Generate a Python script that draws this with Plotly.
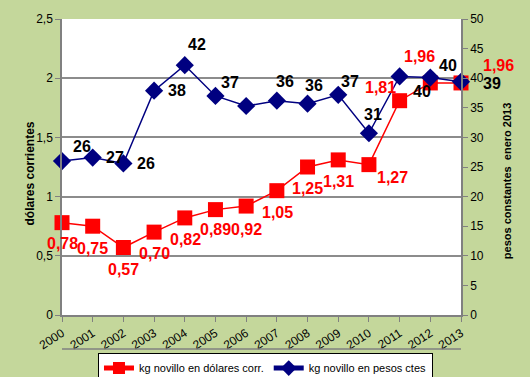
import plotly.graph_objects as go

years = list(range(2000, 2014))
usd = [0.78, 0.75, 0.57, 0.70, 0.82, 0.89, 0.92, 1.05, 1.25, 1.31, 1.27, 1.81, 1.96, 1.96]
pesos = [26.0, 26.6, 25.6, 37.9, 42.2, 37.0, 35.3, 36.2, 35.7, 37.2, 30.7, 40.3, 40.1, 39.4]
usd_labels = ["0,78", "0,75", "0,57", "0,70", "0,82", "0,89", "0,92", "1,05", "1,25", "1,31", "1,27", "1,81", "1,96", "1,96"]
pesos_labels = ["26", "27", "26", "38", "42", "37", None, "36", "36", "37", "31", "40", "40", "39"]

# label offsets (px) relative to the marker
usd_off = [(0, -21), (0, -22), (0, -22), (0, -21), (1, -22), (0, -20), (0, -23),
           (1, -22), (0, -21), (0, -22), (24, -13), (-19, 13), (-11, 26), (37, 17)]
pesos_off = [(20, 15), (22, 0), (23, 0), (23, 0), (12, 21), (15, 13), (0, 0),
             (8, 19), (6, 18), (12, 13), (4, 19), (22, -15), (18, 12), (31, -2)]

BG = "#C4D79B"
RED = "#FF0000"
NAVY = "#000080"
FONT = "Liberation Sans, Arial, sans-serif"

fig = go.Figure()
fig.add_trace(go.Scatter(
    x=years, y=usd, mode="lines+markers", name="kg novillo en dólares corr.",
    line=dict(color=RED, width=1.5),
    marker=dict(symbol="square", size=15, color=RED),
    yaxis="y", cliponaxis=False,
))
fig.add_trace(go.Scatter(
    x=years, y=pesos, mode="lines+markers", name="kg novillo en pesos ctes",
    line=dict(color=NAVY, width=1.5),
    marker=dict(symbol="diamond", size=14, color=NAVY),
    yaxis="y2", cliponaxis=False,
))

anns = []
for xv, yv, t, (dx, dy) in zip(years, usd, usd_labels, usd_off):
    anns.append(dict(x=xv, y=yv, xref="x", yref="y", text=t, showarrow=False,
                     xshift=dx, yshift=dy,
                     font=dict(family=FONT, size=16, color=RED, weight="bold")))
for xv, yv, t, (dx, dy) in zip(years, pesos, pesos_labels, pesos_off):
    if t is None:
        continue
    anns.append(dict(x=xv, y=yv, xref="x", yref="y2", text=t, showarrow=False,
                     xshift=dx, yshift=dy,
                     font=dict(family=FONT, size=16, color="black", weight="bold")))

# axis titles
anns.append(dict(x=0, y=0.478, xref="paper", yref="paper", xshift=-41, text="dólares corrientes",
                 textangle=-90, showarrow=False,
                 font=dict(family=FONT, size=12, color="black", weight="bold")))
anns.append(dict(x=1, y=0.452, xref="paper", yref="paper", xshift=54,
                 text="pesos constantes  enero 2013",
                 textangle=-90, showarrow=False,
                 font=dict(family=FONT, size=11, color="black", weight="bold")))

axis_common = dict(showline=True, linecolor="#808080", linewidth=1.5,
                   ticks="outside", ticklen=5, tickcolor="#808080", automargin=False,
                   tickfont=dict(family=FONT, size=12, color="black"), zeroline=False)

fig.update_layout(
    width=530, height=377,
    margin=dict(l=62, r=69, t=19, b=62, autoexpand=False),
    paper_bgcolor=BG, plot_bgcolor="white",
    separators=",.",
    font=dict(family=FONT, color="black"),
    showlegend=True,
    legend=dict(orientation="h", x=0.51, xanchor="center", y=-0.127, yanchor="top",
                bgcolor="white", bordercolor="black", borderwidth=1,
                itemsizing="constant", itemwidth=30,
                font=dict(family=FONT, size=11, color="black"),
                tracegroupgap=0),
    xaxis=dict(range=[2000, 2013], tickvals=years, tickangle=-33, showgrid=False,
               **axis_common),
    yaxis=dict(range=[0, 2.5], dtick=0.5, showgrid=True, gridcolor="#8c8c8c", gridwidth=1.5,
               **axis_common),
    yaxis2=dict(range=[0, 50], dtick=5, overlaying="y", side="right", showgrid=False,
                **axis_common),
    annotations=anns,
    shapes=[dict(type="line", xref="paper", yref="paper", x0=0, x1=1, y0=-0.115, y1=-0.115,
                 line=dict(color="#808080", width=1.5))],
)

fig.write_html("out.html", config={"displayModeBar": False},
               post_script="document.body.style.margin='0';document.body.style.padding='0';")
